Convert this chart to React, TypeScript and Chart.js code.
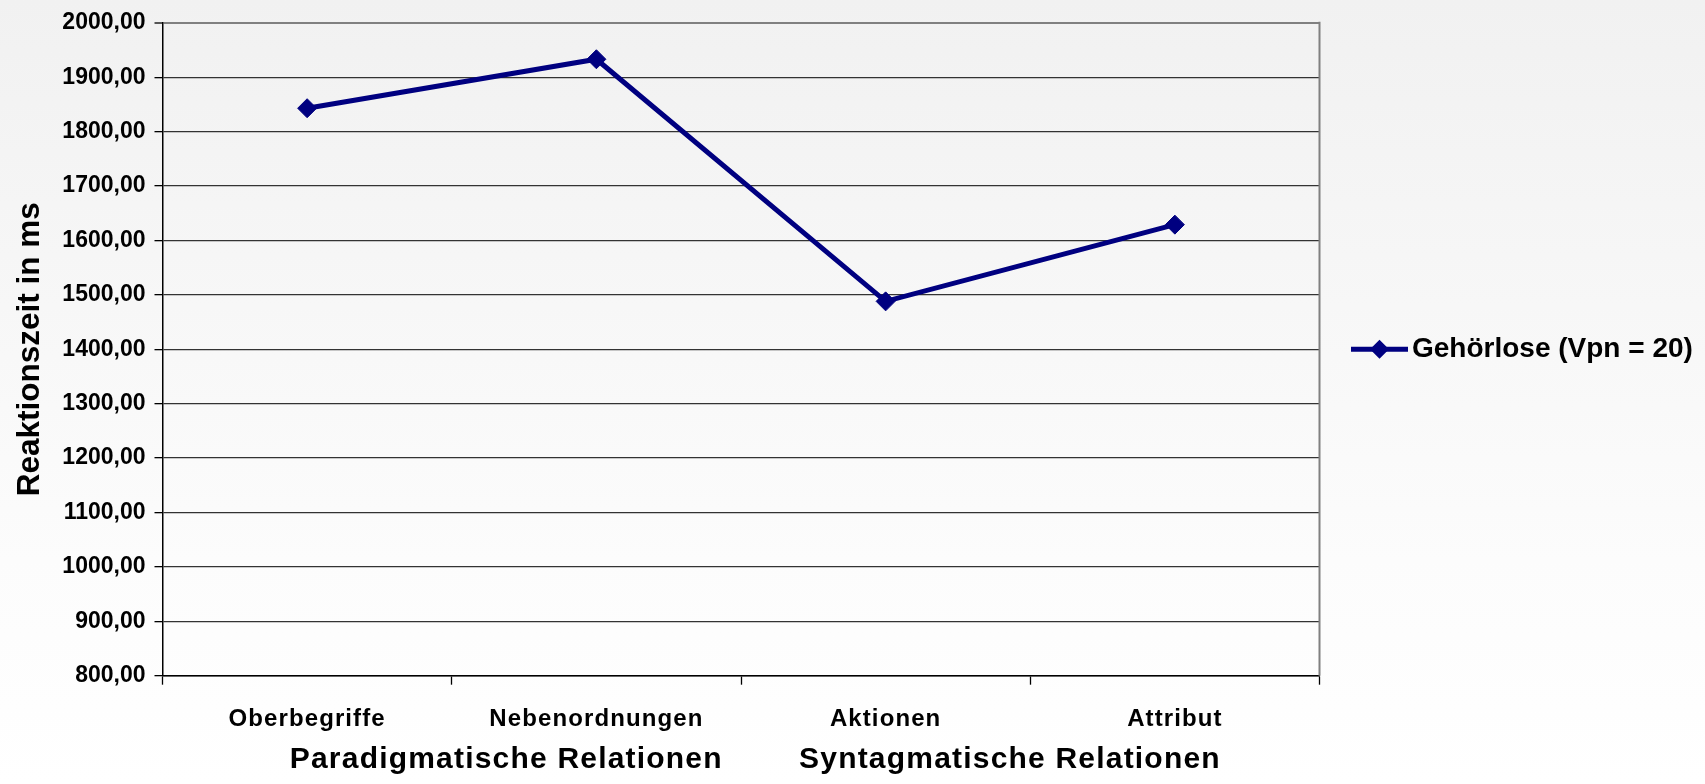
import React, { useEffect, useRef } from 'react';
import { Chart, registerables } from 'chart.js';

Chart.register(...registerables);

// ---- data ----
const categories = ['Oberbegriffe', 'Nebenordnungen', 'Aktionen', 'Attribut'];
const seriesLabel = 'Gehörlose (Vpn = 20)';
const seriesValues = [1843, 1933, 1488, 1629];
const yMin = 800;
const yMax = 2000;
const yStep = 100;
const yTitle = 'Reaktionszeit in ms';
const xTitleParts = ['Paradigmatische Relationen', 'Syntagmatische Relationen'];

// ---- style ----
const NAVY = '#000080';
const FONT = "'Liberation Sans', Arial, Helvetica, sans-serif";
const W = 1705;
const H = 784;
const LEGEND_FS = 28;
// letter spacing (px) per font size, to mimic the original rendering
const spacingBySize: Record<string, number> = { '24': 1.1, '30': 1.2 };

const formatTick = (v: number | string) => Number(v).toFixed(2).replace('.', ',');

export default function App() {
  const ref = useRef<HTMLCanvasElement | null>(null);

  useEffect(() => {
    const canvas = ref.current;
    if (!canvas) return;
    const ctx: any = canvas.getContext('2d');
    const origFill = ctx.fillText;
    ctx.fillText = function (text: string, x: number, y: number, maxWidth?: number) {
      const m = /([\d.]+)px/.exec(this.font);
      const sp = m ? spacingBySize[String(parseFloat(m[1]))] || 0 : 0;
      const hasLS = 'letterSpacing' in this;
      const prev = hasLS ? this.letterSpacing : null;
      if (hasLS) this.letterSpacing = sp + 'px';
      if (maxWidth === undefined || maxWidth === null) origFill.call(this, text, x, y);
      else origFill.call(this, text, x, y, maxWidth);
      if (hasLS) this.letterSpacing = prev;
    };

    const xTitle = '   ' + xTitleParts.join('        ');

    const decor = {
      id: 'decor',
      beforeDatasetsDraw(chart: any) {
        const c = chart.ctx;
        const a = chart.chartArea;
        c.save();
        c.strokeStyle = '#808080';
        c.lineWidth = 2;
        c.beginPath();
        c.moveTo(a.right, a.top - 1);
        c.lineTo(a.right, a.bottom);
        c.stroke();
        c.restore();
      },
      afterDraw(chart: any) {
        const lg = chart.legend;
        if (!lg || !lg.legendHitBoxes || !lg.legendHitBoxes[0]) return;
        const hb = lg.legendHitBoxes[0];
        const c = chart.ctx;
        const cy = hb.top + LEGEND_FS / 2;
        const x0 = hb.left;
        c.save();
        c.strokeStyle = NAVY;
        c.lineWidth = 5;
        c.beginPath();
        c.moveTo(x0, cy);
        c.lineTo(x0 + 57, cy);
        c.stroke();
        const cx = x0 + 28.5;
        const r = 9.5;
        c.fillStyle = NAVY;
        c.beginPath();
        c.moveTo(cx, cy - r);
        c.lineTo(cx + r, cy);
        c.lineTo(cx, cy + r);
        c.lineTo(cx - r, cy);
        c.closePath();
        c.fill();
        c.restore();
      },
    };

    const chart = new Chart(canvas, {
      type: 'line',
      data: {
        labels: categories,
        datasets: [
          {
            label: seriesLabel,
            data: seriesValues,
            borderColor: NAVY,
            backgroundColor: NAVY,
            borderWidth: 5,
            tension: 0,
            fill: false,
            pointStyle: 'rectRot',
            pointRadius: 9.5,
            pointHoverRadius: 9.5,
            pointBackgroundColor: NAVY,
            pointBorderColor: NAVY,
            pointBorderWidth: 1,
          },
        ],
      },
      options: {
        responsive: false,
        animation: false,
        devicePixelRatio: 1,
        events: [],
        layout: { padding: { top: 21.7, left: 0, right: 0, bottom: 0 } },
        plugins: {
          tooltip: { enabled: false },
          legend: {
            position: 'right',
            fullSize: false,
            maxWidth: 385.5,
            labels: {
              color: '#000',
              font: { size: LEGEND_FS, weight: 'bold', family: FONT },
              boxWidth: 47,
              boxHeight: 5,
              padding: 31.5,
              generateLabels: (chart: any) =>
                chart.data.datasets.map((ds: any, i: number) => ({
                  text: ds.label + '      ',
                  fillStyle: 'rgba(0,0,0,0)',
                  strokeStyle: 'rgba(0,0,0,0)',
                  lineWidth: 0,
                  hidden: false,
                  datasetIndex: i,
                  fontColor: '#000',
                })),
            },
          },
        },
        scales: {
          x: {
            offset: true,
            ticks: {
              color: '#000',
              font: { size: 24, weight: 'bold', family: FONT },
              padding: 20.3,
              autoSkip: false,
              maxRotation: 0,
            },
            grid: {
              offset: true,
              drawOnChartArea: false,
              drawTicks: true,
              tickLength: 9,
              color: '#000',
              tickColor: (c: any) => (c.index === categories.length ? '#808080' : '#000'),
              tickWidth: 1.3,
            },
            border: { display: true, color: '#000', width: 1.5 },
            title: {
              display: true,
              text: xTitle,
              color: '#000',
              font: { size: 30, weight: 'bold', family: FONT },
              padding: { top: 0, bottom: 6 },
            },
            afterFit: (s: any) => {
              s.height = 108.3;
            },
          },
          y: {
            min: yMin,
            max: yMax,
            ticks: {
              stepSize: yStep,
              maxTicksLimit: 30,
              color: '#000',
              font: { size: 23, weight: 'bold', family: FONT },
              padding: 9,
              callback: (v: any) => formatTick(v),
            },
            grid: {
              color: (c: any) => (c.tick && c.tick.value === yMax ? '#808080' : '#333333'),
              lineWidth: (c: any) => (c.tick && c.tick.value === yMax ? 2 : 1.3),
              tickColor: '#000',
              tickLength: 8,
              tickWidth: 1.3,
              drawTicks: true,
            },
            border: { display: true, color: '#000', width: 1.5 },
            title: {
              display: true,
              text: yTitle,
              color: '#000',
              font: { size: 31.5, weight: 'bold', family: FONT },
              padding: { top: 11.1, bottom: 0 },
            },
            afterFit: (s: any) => {
              s.width = 162.5;
            },
          },
        },
      },
      plugins: [decor],
    } as any);

    return () => {
      chart.destroy();
      ctx.fillText = origFill;
    };
  }, []);

  return (
    <div
      style={{
        position: 'fixed',
        left: 0,
        top: 0,
        width: W,
        height: H,
        background: 'linear-gradient(to bottom, #f1f1f1 0px, #fcfcfc 560px, #ffffff 784px)',
      }}
    >
      <canvas ref={ref} width={W} height={H} style={{ display: 'block', width: W, height: H }} />
    </div>
  );
}
